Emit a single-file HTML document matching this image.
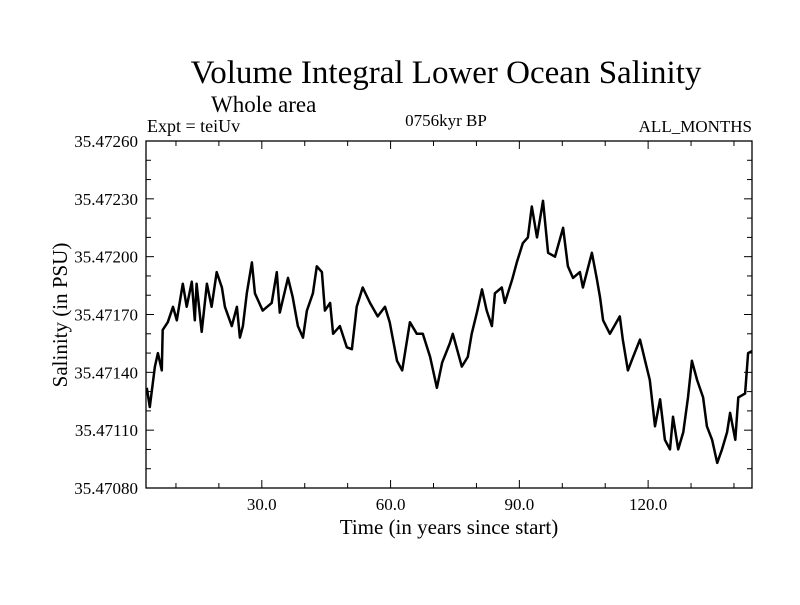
<!DOCTYPE html>
<html><head><meta charset="utf-8"><style>
body{margin:0;background:#fff}
svg text{font-family:"Liberation Serif",serif;fill:#000}
</style></head><body>
<svg id="chart" width="800" height="600">
<rect width="800" height="600" fill="#fff"/>
<text x="446" y="83" font-size="33" text-anchor="middle">Volume Integral Lower Ocean Salinity</text>
<text x="211" y="112" font-size="23">Whole area</text>
<text x="147" y="132" font-size="18">Expt = teiUv</text>
<text x="446" y="126" font-size="17" text-anchor="middle">0756kyr BP</text>
<text x="752" y="132" font-size="17" text-anchor="end">ALL_MONTHS</text>
<text x="449" y="534" font-size="21" text-anchor="middle">Time (in years since start)</text>
<text transform="translate(67,315) rotate(-90)" font-size="21" text-anchor="middle">Salinity (in PSU)</text>
<g id="axes"></g>
<path id="line" fill="none" stroke="#000" stroke-width="2.5" stroke-linejoin="round"/>
<rect x="146" y="141" width="606" height="347" fill="none" stroke="#000" stroke-width="1.3"/>
</svg>
<script>
const years=[3.2,3.9,5.1,5.8,6.7,6.9,8.1,9.3,10.2,11.6,12.5,13.7,14.4,14.8,16.0,17.2,18.3,19.5,20.7,21.4,23.0,24.2,24.9,25.6,26.5,27.7,28.4,30.2,32.3,33.5,34.2,36.1,37.2,38.4,39.6,40.5,41.9,42.8,44.0,44.7,45.9,46.6,48.2,49.8,51.0,52.1,53.5,55.2,57.0,58.7,59.8,61.5,62.7,64.5,66.1,67.5,69.2,70.8,72.0,73.8,74.5,76.6,78.0,78.9,80.1,81.3,82.4,83.6,84.3,85.9,86.6,88.3,89.4,90.8,92.0,92.9,94.1,95.5,96.7,98.3,100.2,101.3,102.5,104.1,104.8,106.9,108.1,108.8,109.5,111.1,113.4,114.1,115.3,116.5,118.1,119.3,120.4,121.6,122.8,123.9,125.1,125.8,127.0,128.2,129.3,130.2,131.4,132.8,133.7,134.9,136.1,137.2,138.4,139.1,140.3,141.0,142.6,143.3,144.2];
const salinity=[35.47132,35.47122,35.47143,35.47150,35.47141,35.47162,35.47166,35.47174,35.47167,35.47186,35.47174,35.47187,35.47167,35.47186,35.47161,35.47186,35.47174,35.47192,35.47184,35.47174,35.47164,35.47174,35.47158,35.47164,35.47181,35.47197,35.47181,35.47172,35.47176,35.47192,35.47171,35.47189,35.47179,35.47164,35.47158,35.47172,35.47181,35.47195,35.47192,35.47172,35.47176,35.47160,35.47164,35.47153,35.47152,35.47174,35.47184,35.47176,35.47169,35.47174,35.47166,35.47146,35.47141,35.47166,35.47160,35.47160,35.47148,35.47132,35.47145,35.47155,35.47160,35.47143,35.47148,35.47160,35.47171,35.47183,35.47172,35.47164,35.47181,35.47184,35.47176,35.47188,35.47197,35.47207,35.47210,35.47226,35.47210,35.47229,35.47202,35.47200,35.47215,35.47195,35.47189,35.47192,35.47184,35.47202,35.47188,35.47179,35.47167,35.47160,35.47169,35.47157,35.47141,35.47148,35.47157,35.47146,35.47136,35.47112,35.47126,35.47105,35.47100,35.47117,35.47100,35.47109,35.47127,35.47146,35.47136,35.47127,35.47112,35.47105,35.47093,35.47100,35.47109,35.47119,35.47105,35.47127,35.47129,35.47150,35.47151];
const yTicks=[35.47080,35.47110,35.47140,35.47170,35.47200,35.47230,35.47260];
const xTicks=[30,60,90,120];
const X0=146,X1=752,Y0=488,Y1=141;
const XMIN=3.02,XMAX=144.2,YMIN=35.4708,YMAX=35.4726;
function sx(t){return X0+(t-XMIN)/(XMAX-XMIN)*(X1-X0);}
function sy(v){return Y0-(v-YMIN)/(YMAX-YMIN)*(Y0-Y1);}
const NS="http://www.w3.org/2000/svg";
const axes=document.getElementById('axes');
function ln(x1,y1,x2,y2){const l=document.createElementNS(NS,'line');l.setAttribute('x1',x1);l.setAttribute('y1',y1);l.setAttribute('x2',x2);l.setAttribute('y2',y2);l.setAttribute('stroke','#000');l.setAttribute('stroke-width','1');


axes.appendChild(l);}
function tx(x,y,s,anchor,name){const t=document.createElementNS(NS,'text');t.setAttribute('x',x);t.setAttribute('y',y);t.setAttribute('font-size','17');t.setAttribute('text-anchor',anchor);t.textContent=s;


axes.appendChild(t);}
for(let v=YMIN;v<=YMAX+1e-9;v+=0.0001){const y=sy(v);const major=Math.round(v*1e5)%30===0;const L=major?8:5;ln(X0,y,X0+L,y);ln(X1-L,y,X1,y);}
yTicks.forEach(v=>tx(138,sy(v)+6,v.toFixed(5),'end','y-tick-label'));
for(let t=10;t<XMAX;t+=10){const x=sx(t);const major=t%30===0;const L=major?8:5;ln(x,Y0,x,Y0-L);ln(x,Y1,x,Y1+L);}
xTicks.forEach(t=>tx(sx(t),510,t.toFixed(1),'middle','x-tick-label'));
let d='';years.forEach((t,i)=>{d+=(i?'L':'M')+sx(t).toFixed(1)+','+sy(salinity[i]).toFixed(1);});
document.getElementById('line').setAttribute('d',d);
</script>
</body></html>
